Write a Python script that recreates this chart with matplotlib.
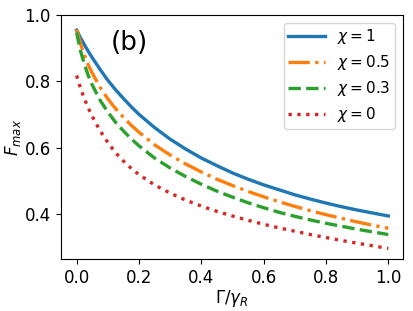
import matplotlib
matplotlib.use("Agg")
import matplotlib.pyplot as plt

# values
gamma = [0.0, 0.0125, 0.025, 0.0375, 0.05, 0.075, 0.1, 0.125, 0.15, 0.175, 0.2,
         0.25, 0.3, 0.35, 0.4, 0.45, 0.5, 0.55, 0.6, 0.65, 0.7, 0.75, 0.8, 0.85, 0.9, 0.95, 1.0]
f_chi_1 = [0.955, 0.932, 0.911, 0.891, 0.872, 0.837, 0.804, 0.775, 0.749, 0.724, 0.701,
           0.661, 0.626, 0.596, 0.569, 0.546, 0.524, 0.505, 0.488, 0.473, 0.458, 0.445, 0.433, 0.422, 0.412, 0.403, 0.394]
f_chi_05 = [0.957, 0.915, 0.880, 0.850, 0.826, 0.783, 0.748, 0.718, 0.692, 0.668, 0.647,
            0.609, 0.578, 0.551, 0.527, 0.505, 0.486, 0.468, 0.452, 0.437, 0.423, 0.410, 0.398, 0.387, 0.376, 0.366, 0.357]
f_chi_03 = [0.948, 0.893, 0.852, 0.818, 0.790, 0.744, 0.708, 0.677, 0.651, 0.627, 0.606,
            0.569, 0.539, 0.513, 0.490, 0.469, 0.451, 0.434, 0.419, 0.405, 0.393, 0.382, 0.372, 0.363, 0.354, 0.346, 0.338]
f_chi_0 = [0.818, 0.780, 0.748, 0.720, 0.695, 0.652, 0.616, 0.585, 0.560, 0.538, 0.519,
           0.488, 0.463, 0.442, 0.424, 0.408, 0.394, 0.381, 0.369, 0.358, 0.348, 0.338, 0.329, 0.320, 0.312, 0.304, 0.296]

labels = [r"$\chi=1$", r"$\chi=0.5$", r"$\chi=0.3$", r"$\chi=0$"]
series = [f_chi_1, f_chi_05, f_chi_03, f_chi_0]
styles = ["-", "-.", "--", ":"]
colors = ["tab:blue", "tab:orange", "tab:green", "tab:red"]

plt.rcParams["font.size"] = 12

fig = plt.figure(figsize=(4.14, 3.11), dpi=100)
ax = fig.add_axes([0.1466, 0.167, 0.8268, 0.784])

for y, lab, ls, c in zip(series, labels, styles, colors):
    ax.plot(gamma, y, ls=ls, color=c, lw=2.4, label=lab)

ax.set_xlim(-0.051, 1.047)
ax.set_ylim(0.264, 1.0)
ax.set_xticks([0.0, 0.2, 0.4, 0.6, 0.8, 1.0])
ax.set_yticks([0.4, 0.6, 0.8, 1.0])
ax.set_xlabel(r"$\Gamma/\gamma_R$", labelpad=1)
ax.set_ylabel(r"$F_{max}$", labelpad=1)

# panel tag
ax.text(0.146, 0.886, "(b)", transform=ax.transAxes, fontsize=19, va="center")
ax.legend(loc="upper right", handlelength=2.4, fontsize=11, borderpad=0.3,
          labelspacing=0.45)

fig.savefig("out.png", dpi=100)
